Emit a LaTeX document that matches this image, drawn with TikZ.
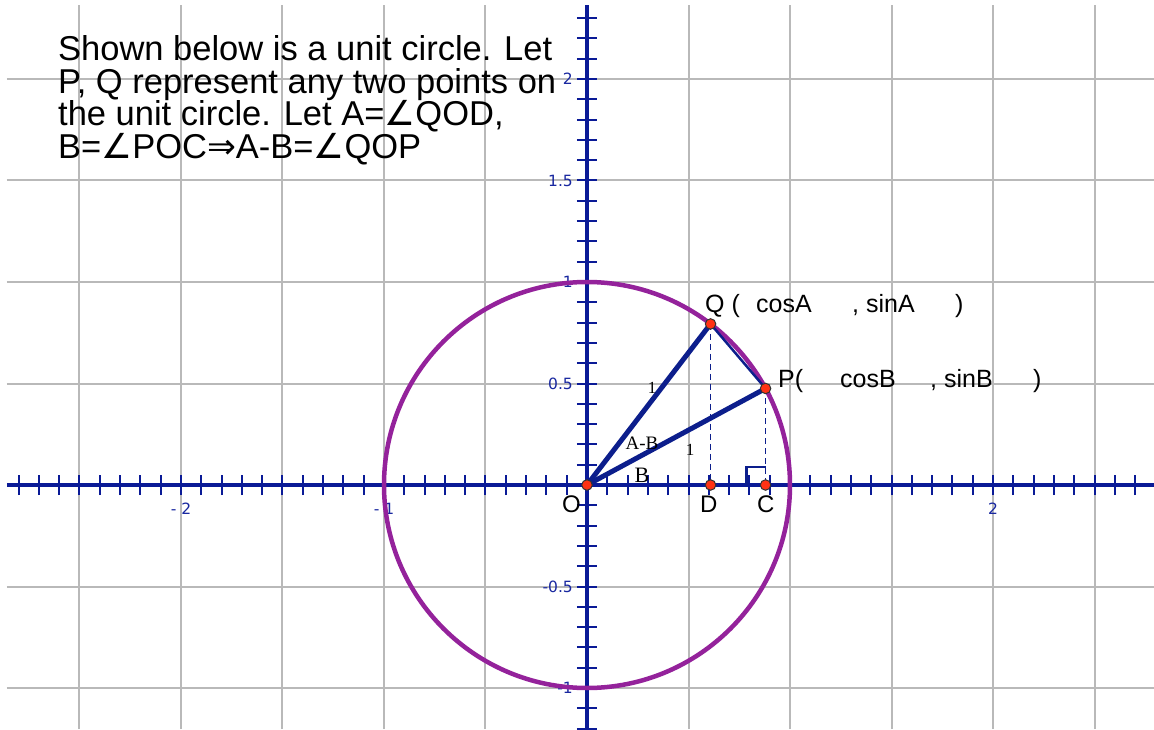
\documentclass[tikz,border=0pt]{standalone}
\usepackage{fontspec}
\setmainfont{Liberation Sans}
\newfontfamily\serifL{Liberation Serif}
\newfontfamily\dvs{DejaVu Sans}
\definecolor{axisblue}{RGB}{10,26,150}
\definecolor{segblue}{RGB}{12,30,140}
\definecolor{circpurple}{RGB}{148,34,155}
\definecolor{ptred}{RGB}{255,50,20}
\definecolor{labblue}{RGB}{25,40,160}
\definecolor{gridgray}{RGB}{185,185,185}
\begin{document}
\begin{tikzpicture}[x=1pt,y=1pt,
 gridline/.style={gridgray,line width=2pt},
 axisline/.style={axisblue,line width=3.5pt},
 tickline/.style={axisblue,line width=2pt},
 axlab/.style={labblue,font=\dvs\fontsize{15.5}{16}\selectfont,inner sep=0pt},
 bigtext/.style={font=\fontsize{34.5}{33}\selectfont,anchor=base west,inner sep=0pt},
 coordtext/.style={font=\fontsize{25}{26}\selectfont,anchor=base west,inner sep=0pt},
 ptlab/.style={font=\fontsize{24}{25}\selectfont,anchor=base west,inner sep=0pt},
 seglab/.style={font=\serifL\fontsize{17}{18}\selectfont,inner sep=0pt},
 thickseg/.style={segblue,line width=5pt,line cap=round},
 thinseg/.style={segblue,line width=2.5pt},
 dashseg/.style={segblue,line width=1.6pt,dash pattern=on 6pt off 4pt},
 dot/.style={circle,fill=ptred,draw=black!80,line width=1pt,inner sep=0pt,minimum size=10.5pt},
]
\useasboundingbox (-587,-244) rectangle (567,485);
\fill[white] (-587,-244) rectangle (567,485);
% grid
\foreach \i in {-5,...,5} \draw[gridline] (\i*101.5,-244) -- (\i*101.5,480);
\foreach \j in {-2,...,4} \draw[gridline] (-580,\j*101.5) -- (567,\j*101.5);
% axes
\draw[axisline] (-580,0) -- (567,0);
\draw[axisline] (0,-244) -- (0,480);
\foreach \i in {-28,...,-1,1,2,...,27} \draw[tickline] (\i*20.3,-10) -- (\i*20.3,10);
\foreach \j in {-12,...,-1,1,2,...,23} \draw[tickline] (-10,\j*20.3) -- (10,\j*20.3);
% axis labels
\node[axlab,anchor=east] (y2) at (-14,406) {2};
\node[axlab,anchor=east] (y15) at (-14,304.5) {1.5};
\node[axlab,anchor=east] (y1) at (-14,203) {1};
\node[axlab,anchor=east] (y05) at (-14,101.5) {0.5};
\node[axlab,anchor=east] (ym05) at (-14,-101.5) {-0.5};
\node[axlab,anchor=east] (ym1) at (-14,-203) {-1};
\node[axlab] (xm2) at (-406,-24) {- 2};
\node[axlab] (xm1) at (-203,-24) {- 1};
\node[axlab] (x2) at (406,-24) {2};
% circle
\draw[circpurple,line width=4.5pt] (0,0) circle (203);
% points
\coordinate (O) at (0,0);
\coordinate (Q) at (52.5:203);
\coordinate (P) at (28.4:203);
\coordinate (D) at (Q |- O);
\coordinate (C) at (P |- O);
\draw[dashseg] (Q) -- (D);
\draw[dashseg] (P) -- (C);
\draw[thinseg] (Q) -- (P);
\draw[thickseg] (O) -- (Q);
\draw[thickseg] (O) -- (P);
\draw[segblue,line width=2.4pt] ([xshift=-19pt]C) -- ++(0,18) -- ++(19,0);
\node[dot] (Od) at (O) {};
\node[dot] (Qd) at (Q) {};
\node[dot] (Pd) at (P) {};
\node[dot] (Dd) at (D) {};
\node[dot] (Cd) at (C) {};
% labels
\node[ptlab] (Olab) at (-25,-27) {O};
\node[ptlab] (Dlab) at (113,-27) {D};
\node[ptlab] (Clab) at (170,-27) {C};
\node[coordtext] (q1) at (118,173) {Q (};
\node[coordtext] (q2) at (169,173) {cosA};
\node[coordtext] (q3) at (265,173) {, sinA};
\node[coordtext] (q4) at (368,173) {)};
\node[coordtext] (p1) at (191,98) {P(};
\node[coordtext] (p2) at (253,98) {cosB};
\node[coordtext] (p3) at (343,98) {, sinB};
\node[coordtext] (p4) at (446,98) {)};
\node[seglab] (l1) at (65,97) {1};
\node[seglab,font=\serifL\fontsize{19}{20}\selectfont] (lab) at (55,42) {A-B};
\node[seglab] (l2) at (103,35) {1};
\node[seglab,font=\serifL\fontsize{22}{23}\selectfont] (lb) at (55,10) {B};
% text
\node[bigtext] (t1) at (-529,424) {Shown below is a unit circle. Let};
\node[bigtext] (t2) at (-529,391.5) {P, Q represent any two points on};
\node[bigtext] (t3) at (-529,359) {the unit circle. Let A={\dvs ∠}QOD,};
\node[bigtext] (t4) at (-529,326.5) {B={\dvs ∠}POC{\dvs ⇒}A-B={\dvs ∠}QOP};
\end{tikzpicture}
\end{document}
